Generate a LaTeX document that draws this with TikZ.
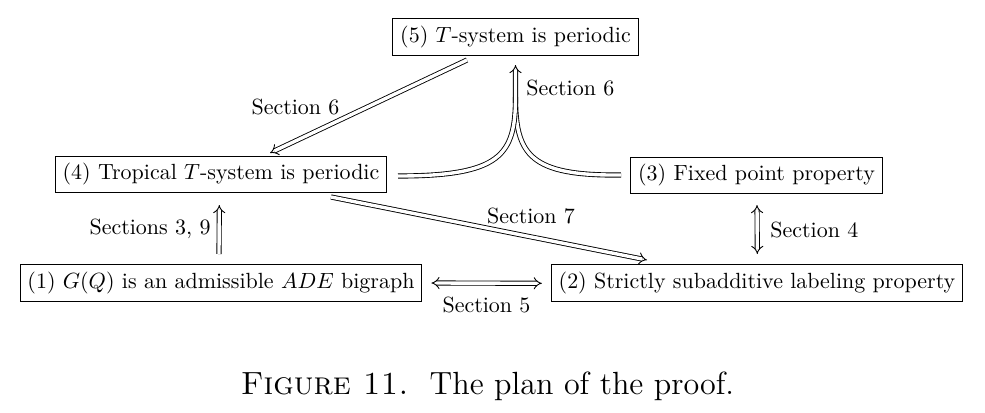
\documentclass[tikz,border=0pt]{standalone}
\usetikzlibrary{arrows.meta,calc}
\begin{document}
\begin{tikzpicture}[x=0.455pt,y=-0.455pt,
  box/.style={draw,line width=0.5pt,inner sep=3.333pt},
  dbl/.style={double equal sign distance,line width=0.4pt},
  imp/.style={dbl,-{Implies}},
  bimp/.style={dbl,{Implies}-{Implies}},
  lbl/.style={inner sep=0pt}]
\useasboundingbox (0,0) rectangle (985,412);
\node[box] (n5) at (515.5,37) {(5) $T$-system is periodic};
\node[box] (n4) at (221,174.5) {(4) Tropical $T$-system is periodic};
\node[box] (n3) at (756.5,175.5) {(3) Fixed point property};
\node[box] (n1) at (221,283) {(1) $G(Q)$ is an admissible $ADE$ bigraph};
\node[box] (n2) at (757,283) {(2) Strictly subadditive labeling property};
% (5) -> (4)
\draw[imp] ($(n5)+(-48.5,23)$) -- ($(n4)+(49,-21.5)$);
\node[lbl] (l56) at (295.5,107) {Section 6};
% merge of (4) and (3) into (5)
\coordinate (top) at ($(n5)+(0,28)$);
\coordinate (mid) at ($(n5)+(0,60)$);
\draw[dbl] ($(n3)+(-135.5,-0.5)$) .. controls (530,176) and (515.5,155) .. (mid);
\draw[imp] ($(n4)+(177,1.5)$) .. controls (501,176) and (515.5,155) .. (mid) -- (top);
\node[lbl,anchor=west] (l6b) at (526,88) {Section 6};
% (4) -> (2)
\draw[imp] ($(n4)+(110,22.5)$) -- ($(n2)+(-110,-23)$);
\node[lbl] (l7) at (531,216) {Section 7};
% (1) -> (4)
\draw[imp] ($(n1)+(-2,-29)$) -- ($(n4)+(-1.7,30.5)$);
\node[lbl,anchor=east] (l39) at (211,229) {Sections 3, 9};
% (3) <-> (2)
\draw[bimp] ($(n3)+(0.5,29.5)$) -- ($(n2)+(0.3,-29)$);
\node[lbl,anchor=west] (l4) at (770,230) {Section 4};
% (1) <-> (2)
\draw[bimp] ($(n1.east)+(9,0)$) -- ($(n2.west)+(-9,0.3)$);
\node[lbl] (l5) at (486.5,305) {Section 5};
% caption
\node (cap) at (487.5,386) {\fontsize{14.6}{17}\selectfont\textsc{Figure 11.}\ \ The plan of the proof.};
\end{tikzpicture}
\end{document}
